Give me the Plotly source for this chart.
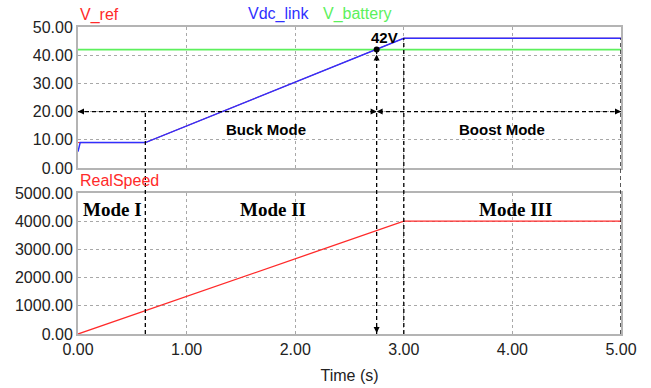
import plotly.graph_objects as go

# ---- data ----
t_vdc = [0.0, 0.02, 0.62, 3.0, 5.0]
vdc_link = [5.8, 9.0, 9.0, 46.0, 46.0]
t_vref = [0.0, 0.62, 3.0, 5.0]
v_ref = [9.0, 9.0, 46.0, 46.0]
t_bat = [0.0, 5.0]
v_battery = [42.0, 42.0]
t_speed = [0.0, 3.0, 5.0]
real_speed = [0.0, 4000.0, 4000.0]

t_mode1_end = 0.62
t_switch = 2.75
v_switch = 42.0
t_mode2_end = 3.0
t_end = 5.0
v_arrow = 20.0

x_ticks = [0, 1, 2, 3, 4, 5]
top_ticks = [0, 10, 20, 30, 40, 50]
bot_ticks = [0, 1000, 2000, 3000, 4000, 5000]

TOP_DOM = [0.5407, 1.0]
BOT_DOM = [0.0, 0.4593]
TOP_RNG = [0, 50]
BOT_RNG = [0, 5000]

def top_paper(v):
    return TOP_DOM[0] + (v - TOP_RNG[0]) / (TOP_RNG[1] - TOP_RNG[0]) * (TOP_DOM[1] - TOP_DOM[0])

def bot_paper(v):
    return BOT_DOM[0] + (v - BOT_RNG[0]) / (BOT_RNG[1] - BOT_RNG[0]) * (BOT_DOM[1] - BOT_DOM[0])

RED = "#ff2a2a"
BLUE = "#3030ff"
GREEN = "#5cf05c"
TXT = "#222222"
SANS = "Liberation Sans, Arial, sans-serif"
SERIF = "Liberation Serif, Times New Roman, serif"

fig = go.Figure()
fig.add_trace(go.Scatter(x=t_bat, y=v_battery, mode="lines", line=dict(color=GREEN, width=1.8),
                         xaxis="x2", yaxis="y2", showlegend=False))
fig.add_trace(go.Scatter(x=t_vref, y=v_ref, mode="lines", line=dict(color=RED, width=1),
                         xaxis="x2", yaxis="y2", showlegend=False))
fig.add_trace(go.Scatter(x=t_vdc, y=vdc_link, mode="lines", line=dict(color=BLUE, width=1.5),
                         xaxis="x2", yaxis="y2", showlegend=False))
fig.add_trace(go.Scatter(x=[t_switch], y=[v_switch], mode="markers",
                         marker=dict(color="black", size=6), xaxis="x2", yaxis="y2", showlegend=False))
fig.add_trace(go.Scatter(x=t_speed, y=real_speed, mode="lines", line=dict(color=RED, width=1.3),
                         xaxis="x", yaxis="y", showlegend=False))

dash = dict(color="black", width=1.3, dash="4px,3px")
shapes = [
    dict(type="line", xref="x2", yref="y2", x0=0, x1=t_end, y0=v_arrow, y1=v_arrow, line=dash),
    dict(type="line", xref="x", yref="paper", x0=t_mode1_end, x1=t_mode1_end,
         y0=bot_paper(0), y1=top_paper(v_arrow), line=dash),
    dict(type="line", xref="x", yref="paper", x0=t_switch, x1=t_switch,
         y0=bot_paper(0), y1=top_paper(v_switch), line=dash),
    dict(type="line", xref="x", yref="paper", x0=t_mode2_end, x1=t_mode2_end,
         y0=bot_paper(0), y1=top_paper(vdc_link[-1]), line=dash),
    dict(type="line", xref="x", yref="paper", x0=t_end, x1=t_end,
         y0=bot_paper(0), y1=top_paper(vdc_link[-1]), line=dash),
]

def arrow(x, y, ax, ay, xref, yref, standoff=0):
    return dict(x=x, y=y, xref=xref, yref=yref, ax=ax, ay=ay, axref="pixel", ayref="pixel",
                text="", showarrow=True, arrowhead=2, arrowsize=1.0, arrowwidth=1.2,
                arrowcolor="black", standoff=standoff)

annotations = [
    arrow(0, v_arrow, 8, 0, "x2", "y2"),
    arrow(t_switch, v_arrow, -8, 0, "x2", "y2"),
    arrow(t_switch, v_arrow, 8, 0, "x2", "y2"),
    arrow(t_end, v_arrow, -8, 0, "x2", "y2"),
    arrow(t_switch, v_switch, 0, 12, "x2", "y2", standoff=5),
    arrow(t_switch, 0, 0, -9, "x", "y", standoff=1),
    dict(text="V_ref", x=0, y=1, xref="paper", yref="paper", xanchor="left", yanchor="middle",
         yshift=12, showarrow=False, font=dict(family=SANS, size=16, color=RED)),
    dict(text="Vdc_link", x=0.370, y=1, xref="paper", yref="paper", xanchor="center", yanchor="middle",
         yshift=13, showarrow=False, font=dict(family=SANS, size=16, color=BLUE)),
    dict(text="V_battery", x=0.513, y=1, xref="paper", yref="paper", xanchor="center", yanchor="middle",
         yshift=13, showarrow=False, font=dict(family=SANS, size=16, color=GREEN)),
    dict(text="RealSpeed", x=0, y=BOT_DOM[1], xref="paper", yref="paper", xanchor="left", yanchor="middle",
         yshift=12, showarrow=False, font=dict(family=SANS, size=16, color=RED)),
    dict(text="<b>42V</b>", x=2.818, y=46.2, xref="x2", yref="y2", showarrow=False,
         font=dict(family=SANS, size=15, color="black")),
    dict(text="<b>Buck Mode</b>", x=1.727, y=13.8, xref="x2", yref="y2", showarrow=False,
         font=dict(family=SANS, size=15, color="black")),
    dict(text="<b>Boost Mode</b>", x=3.907, y=13.8, xref="x2", yref="y2", showarrow=False,
         font=dict(family=SANS, size=15, color="black")),
    dict(text="<b>Mode I</b>", x=0.318, y=4400, xref="x", yref="y", showarrow=False,
         font=dict(family=SERIF, size=19, color="black")),
    dict(text="<b>Mode II</b>", x=1.80, y=4400, xref="x", yref="y", showarrow=False,
         font=dict(family=SERIF, size=19, color="black")),
    dict(text="<b>Mode III</b>", x=4.03, y=4400, xref="x", yref="y", showarrow=False,
         font=dict(family=SERIF, size=19, color="black")),
]

axis_common = dict(showgrid=True, gridcolor="#a8a8a8", griddash="dot", gridwidth=1,
                   showline=True, linecolor="#b4b4b4", linewidth=2, mirror=True,
                   zeroline=False, ticks="", automargin=False,
                   tickfont=dict(family=SANS, size=16, color=TXT))

fig.update_layout(
    width=651, height=388,
    margin=dict(l=78, r=30, t=27, b=54),
    paper_bgcolor="white", plot_bgcolor="white",
    xaxis=dict(domain=[0, 1], anchor="y", range=[0, 5], tickvals=x_ticks, tickformat=".2f",
               title=dict(text="Time (s)", font=dict(family=SANS, size=16, color=TXT), standoff=13),
               **axis_common),
    yaxis=dict(domain=BOT_DOM, anchor="x", range=BOT_RNG, tickvals=bot_ticks, tickformat=".2f",
               **axis_common),
    xaxis2=dict(domain=[0, 1], anchor="y2", range=[0, 5], tickvals=x_ticks, matches="x",
                showticklabels=False, **axis_common),
    yaxis2=dict(domain=TOP_DOM, anchor="x2", range=TOP_RNG, tickvals=top_ticks, tickformat=".2f",
                **axis_common),
    shapes=shapes,
    annotations=annotations,
)

fig.write_html("out.html", config={"displayModeBar": False},
               post_script="document.body.style.margin='0';")
